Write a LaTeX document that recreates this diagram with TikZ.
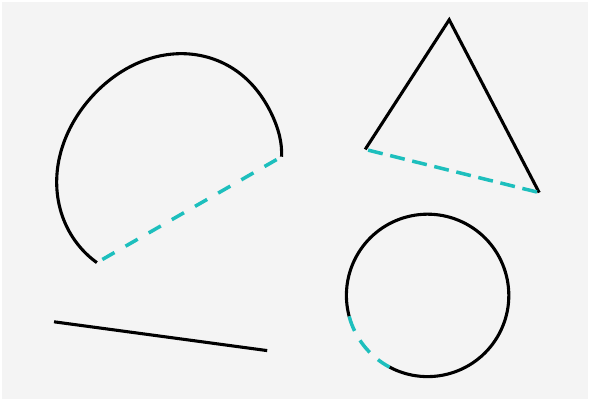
\documentclass[tikz,border=0pt]{standalone}
\definecolor{ShapeCyan}{HTML}{1DBFBD}
\definecolor{PaperGrey}{HTML}{F4F4F4}
\usepackage{tikz}
\usetikzlibrary{calc}

\begin{document}
\begin{tikzpicture}[line width=2.2pt,
  outline/.style={draw=black, line width=2.2pt},
  cutline/.style={draw=ShapeCyan, line width=2.5pt}]
  \fill[white] (0,0) rectangle (14.75,10.025);
  \fill[PaperGrey] (0.05,0.05) rectangle (14.70,9.985);
  \useasboundingbox (0,0) rectangle (14.75,10.025);
  % open arc with dashed chord
  \begin{scope}[shift={(4.2325,5.925)}]
    \coordinate (arcA) at (233.7:3.06);
    \coordinate (arcB) at (3.7:2.813);
    \draw[outline] plot[domain=3.7:233.7, samples=90, smooth]
      (\x:{2.7675+0.095*cos(\x-232)+0.1975*cos(2*(\x-52))+0.13*exp(-0.5*((\x-3.7)/15)^2)});
  \end{scope}
  \draw[cutline, dash pattern=on 9.96pt off 9.03pt, dash phase=14.47pt] (arcA) -- (arcB);
  % triangle, base dashed
  \coordinate (apex) at (11.23,9.53);
  \coordinate (triL) at (9.13,6.29);
  \coordinate (triR) at (13.48,5.21);
  \draw[outline] (triL) -- (apex) -- (triR);
  \draw[cutline, dash pattern=on 10.67pt off 5.48pt, dash phase=14pt] (triL) -- (triR);
  % circle with a dashed piece
  \coordinate (ring) at (10.69,2.64);
  \draw[outline] ([shift={(242:2.03)}]ring) arc[start angle=242, end angle=555, radius=2.03];
  \draw[cutline, dash pattern=on 11pt off 7.8pt] ([shift={(195:2.03)}]ring)
    arc[start angle=195, end angle=242, radius=2.03];
  % plain segment
  \coordinate (segL) at (1.35,1.98);
  \coordinate (segR) at (6.68,1.26);
  \draw[outline] (segL) -- (segR);
\end{tikzpicture}
\end{document}
